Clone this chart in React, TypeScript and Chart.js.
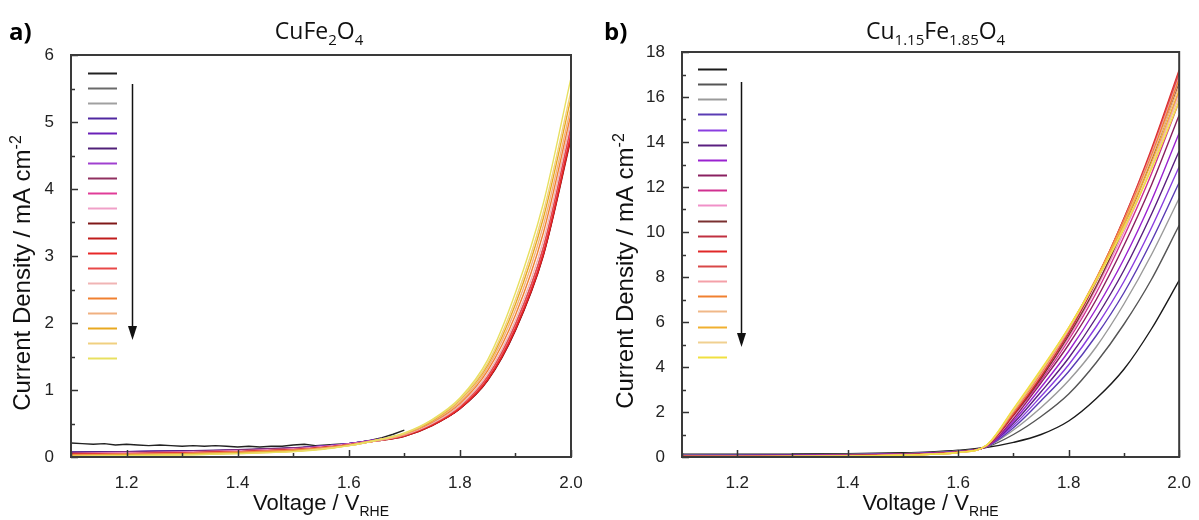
import React, { useEffect, useRef } from "react";
import { Chart, registerables } from "chart.js";

Chart.register(...registerables);

// ---------------- data ----------------
const VOLTAGE = [1.1, 1.2, 1.3, 1.4, 1.5, 1.55, 1.6, 1.65, 1.7, 1.75, 1.8, 1.85, 1.9, 1.95, 2.0];

// first (black) scan of CuFe2O4 – noisy, recorded only up to 1.70 V
const A_BLACK_VOLTAGE = [1.1, 1.12, 1.14, 1.16, 1.18, 1.2, 1.22, 1.24, 1.26, 1.28, 1.3, 1.32, 1.34, 1.36, 1.38, 1.4, 1.42, 1.44, 1.46, 1.48, 1.5, 1.52, 1.54, 1.56, 1.58, 1.6, 1.62, 1.64, 1.66, 1.68, 1.7];
const A_BLACK_CURRENT = [0.21, 0.2, 0.19, 0.2, 0.18, 0.19, 0.18, 0.17, 0.18, 0.17, 0.16, 0.17, 0.16, 0.17, 0.16, 0.15, 0.16, 0.15, 0.16, 0.16, 0.18, 0.19, 0.17, 0.18, 0.19, 0.2, 0.22, 0.25, 0.29, 0.34, 0.4];

const A_COLORS = [
  "#222222", "#6a6a6a", "#a0a0a0", "#5028a0", "#6a20b8", "#502078", "#a040d0", "#903060", "#e03c98", "#f0a0c8",
  "#801818", "#c01c1c", "#e82828", "#e84848", "#f0b4b4", "#f08030", "#f0b080", "#e8a820", "#f0d080", "#e8e060",
];

// CuFe2O4 scans 2..20, values at VOLTAGE
const A_CURRENTS = [
  [0.06, 0.07, 0.08, 0.1, 0.13, 0.16, 0.2, 0.26, 0.34, 0.5, 0.76, 1.2, 1.98, 3.1, 4.9],
  [0.06, 0.07, 0.08, 0.1, 0.13, 0.16, 0.2, 0.26, 0.34, 0.5, 0.76, 1.2, 1.98, 3.12, 4.92],
  [0.07, 0.08, 0.09, 0.1, 0.13, 0.16, 0.2, 0.26, 0.33, 0.48, 0.73, 1.16, 1.92, 3.05, 4.85],
  [0.07, 0.08, 0.09, 0.1, 0.13, 0.16, 0.2, 0.26, 0.33, 0.48, 0.72, 1.15, 1.9, 3.02, 4.8],
  [0.07, 0.08, 0.09, 0.11, 0.14, 0.16, 0.2, 0.26, 0.33, 0.48, 0.73, 1.16, 1.92, 3.04, 4.85],
  [0.06, 0.07, 0.08, 0.1, 0.13, 0.16, 0.2, 0.26, 0.33, 0.49, 0.74, 1.18, 1.95, 3.08, 4.9],
  [0.06, 0.07, 0.08, 0.1, 0.13, 0.15, 0.19, 0.25, 0.33, 0.48, 0.73, 1.17, 1.93, 3.05, 4.85],
  [0.05, 0.06, 0.07, 0.09, 0.12, 0.15, 0.19, 0.25, 0.32, 0.48, 0.73, 1.16, 1.92, 3.04, 4.8],
  [0.05, 0.06, 0.07, 0.09, 0.12, 0.15, 0.19, 0.25, 0.33, 0.49, 0.75, 1.19, 1.96, 3.1, 4.9],
  [0.05, 0.05, 0.06, 0.08, 0.11, 0.14, 0.18, 0.24, 0.31, 0.47, 0.72, 1.14, 1.89, 3.0, 4.75],
  [0.04, 0.05, 0.06, 0.08, 0.11, 0.14, 0.18, 0.24, 0.31, 0.47, 0.72, 1.15, 1.9, 3.01, 4.78],
  [0.04, 0.05, 0.06, 0.08, 0.11, 0.14, 0.18, 0.24, 0.32, 0.48, 0.73, 1.16, 1.92, 3.03, 4.8],
  [0.04, 0.05, 0.06, 0.08, 0.11, 0.14, 0.18, 0.24, 0.32, 0.49, 0.75, 1.2, 1.98, 3.12, 4.92],
  [0.03, 0.04, 0.05, 0.07, 0.1, 0.13, 0.18, 0.24, 0.33, 0.5, 0.77, 1.24, 2.04, 3.22, 5.02],
  [0.03, 0.04, 0.05, 0.07, 0.1, 0.13, 0.18, 0.25, 0.34, 0.52, 0.8, 1.29, 2.12, 3.34, 5.12],
  [0.02, 0.03, 0.04, 0.06, 0.09, 0.12, 0.17, 0.25, 0.34, 0.53, 0.82, 1.33, 2.2, 3.45, 5.22],
  [0.02, 0.03, 0.04, 0.06, 0.09, 0.12, 0.17, 0.25, 0.35, 0.54, 0.85, 1.37, 2.28, 3.56, 5.36],
  [0.01, 0.02, 0.03, 0.05, 0.08, 0.12, 0.17, 0.25, 0.35, 0.55, 0.86, 1.4, 2.35, 3.65, 5.46],
  [0.01, 0.02, 0.03, 0.05, 0.08, 0.11, 0.17, 0.25, 0.36, 0.56, 0.88, 1.45, 2.45, 3.78, 5.66],
];

const B_COLORS = [
  "#1a1a1a", "#555555", "#9a9a9a", "#5a3cb4", "#8a3ee0", "#5a1f80", "#9a22d0", "#8a2060", "#d03090", "#f090c8",
  "#7a3030", "#c03040", "#e02828", "#d84848", "#f4a0a8", "#f08030", "#f0b888", "#f0b030", "#f0d090", "#f0e040",
];

// Cu1.15Fe1.85O4 scans 1..20, values at VOLTAGE
const B_CURRENTS = [
  [0.12, 0.12, 0.13, 0.15, 0.19, 0.23, 0.3, 0.42, 0.65, 1.0, 1.6, 2.6, 3.9, 5.7, 7.85],
  [0.09, 0.09, 0.1, 0.12, 0.16, 0.2, 0.27, 0.43, 1.0, 1.8, 2.8, 4.2, 5.9, 7.9, 10.3],
  [0.08, 0.08, 0.09, 0.11, 0.15, 0.19, 0.26, 0.44, 1.2, 2.2, 3.4, 4.9, 6.8, 9.0, 11.5],
  [0.07, 0.08, 0.09, 0.1, 0.14, 0.18, 0.25, 0.44, 1.3, 2.5, 3.8, 5.4, 7.3, 9.6, 12.2],
  [0.07, 0.07, 0.08, 0.1, 0.14, 0.18, 0.25, 0.45, 1.4, 2.7, 4.1, 5.8, 7.8, 10.2, 12.9],
  [0.06, 0.07, 0.08, 0.09, 0.13, 0.17, 0.24, 0.45, 1.5, 2.9, 4.4, 6.2, 8.3, 10.8, 13.6],
  [0.06, 0.06, 0.07, 0.09, 0.13, 0.17, 0.24, 0.45, 1.6, 3.1, 4.7, 6.6, 8.8, 11.4, 14.4],
  [0.05, 0.06, 0.07, 0.08, 0.12, 0.16, 0.23, 0.46, 1.7, 3.3, 5.0, 7.0, 9.4, 12.1, 15.2],
  [0.05, 0.05, 0.06, 0.08, 0.12, 0.16, 0.23, 0.46, 1.8, 3.4, 5.2, 7.3, 9.8, 12.6, 15.8],
  [0.04, 0.05, 0.06, 0.07, 0.11, 0.15, 0.22, 0.47, 1.8, 3.5, 5.3, 7.5, 10.0, 12.9, 16.2],
  [0.04, 0.04, 0.05, 0.07, 0.11, 0.15, 0.22, 0.47, 1.85, 3.5, 5.4, 7.6, 10.2, 13.2, 16.6],
  [0.03, 0.04, 0.05, 0.06, 0.1, 0.14, 0.21, 0.48, 1.9, 3.6, 5.5, 7.8, 10.4, 13.5, 17.0],
  [0.03, 0.03, 0.04, 0.06, 0.1, 0.14, 0.21, 0.48, 1.9, 3.6, 5.6, 7.9, 10.6, 13.7, 17.2],
  [0.02, 0.03, 0.04, 0.05, 0.09, 0.13, 0.21, 0.49, 1.95, 3.65, 5.6, 7.9, 10.6, 13.6, 17.1],
  [0.02, 0.02, 0.03, 0.05, 0.09, 0.13, 0.2, 0.49, 2.0, 3.7, 5.65, 7.9, 10.5, 13.5, 16.9],
  [0.02, 0.02, 0.03, 0.04, 0.08, 0.12, 0.2, 0.5, 2.0, 3.75, 5.7, 7.95, 10.5, 13.4, 16.8],
  [0.01, 0.02, 0.03, 0.04, 0.08, 0.12, 0.2, 0.5, 2.05, 3.8, 5.7, 7.9, 10.4, 13.3, 16.5],
  [0.01, 0.01, 0.02, 0.04, 0.08, 0.12, 0.2, 0.5, 2.1, 3.85, 5.75, 7.9, 10.35, 13.1, 16.3],
  [0.0, 0.01, 0.02, 0.04, 0.08, 0.12, 0.2, 0.5, 2.1, 3.85, 5.7, 7.85, 10.2, 12.9, 16.0],
  [0.0, 0.01, 0.02, 0.04, 0.08, 0.12, 0.2, 0.5, 2.15, 3.9, 5.75, 7.85, 10.15, 12.8, 15.8],
];

const X_MIN = 1.1;
const X_MAX = 2.0;
const X_STEP = 0.1;
const A_Y_MAX = 6;
const A_Y_STEP = 0.5;
const B_Y_MAX = 18;
const B_Y_STEP = 1;

// ---------------- drawing helpers ----------------
type Part = { t: string; sub?: boolean; sup?: boolean };

const SANS = "'Liberation Sans', Arial, sans-serif";
const TITLE_FONT = "'Open Sans', 'Noto Sans', sans-serif";

function richWidth(ctx: CanvasRenderingContext2D, parts: Part[], size: number, family: string, weight: string) {
  let w = 0;
  for (const p of parts) {
    const s = p.sub || p.sup ? Math.round(size * 0.65) : size;
    ctx.font = `${weight} ${s}px ${family}`;
    w += ctx.measureText(p.t).width;
  }
  return w;
}

function drawRich(ctx: CanvasRenderingContext2D, parts: Part[], cx: number, baseline: number, size: number, family: string, weight = "normal", color = "#111") {
  const total = richWidth(ctx, parts, size, family, weight);
  let x = cx - total / 2;
  ctx.fillStyle = color;
  ctx.textAlign = "left";
  ctx.textBaseline = "alphabetic";
  for (const p of parts) {
    const s = p.sub || p.sup ? Math.round(size * 0.65) : size;
    ctx.font = `${weight} ${s}px ${family}`;
    const dy = p.sub ? size * 0.25 : p.sup ? -size * 0.38 : 0;
    ctx.fillText(p.t, x, baseline + dy);
    x += ctx.measureText(p.t).width;
  }
}

type PanelSpec = {
  canvasWidth: number;
  yWidth: number;
  padTop: number;
  padRight: number;
  yMax: number;
  yStep: number;
  yMajor: number;
  series: { x: number[]; y: number[]; color: string; noisy?: boolean }[];
  legendColors: string[];
  legendX0: number;
  legendX1: number;
  legendY0: number;
  legendDy: number;
  arrowX: number;
  arrowY0: number;
  arrowY1: number;
  letter: string;
  letterX: number;
  title: Part[];
  titleDx: number;
  yTitleX: number;
  yTitleY: number;
};

const Y_TITLE: Part[] = [{ t: "Current Density / mA cm" }, { t: "-2", sup: true }];
const X_TITLE: Part[] = [{ t: "Voltage / V" }, { t: "RHE", sub: true }];

function buildConfig(p: PanelSpec): any {
  const datasets = p.series.map((s, i) => ({
    data: s.x.map((x, j) => ({ x, y: s.y[j] })),
    borderColor: s.color,
    backgroundColor: s.color,
    borderWidth: 1.4,
    pointRadius: 0,
    fill: false,
    tension: 0,
    cubicInterpolationMode: s.noisy ? "default" : "monotone",
    order: p.series.length - i,
  }));

  const decor = {
    id: "decor",
    afterDraw(chart: any) {
      const ctx: CanvasRenderingContext2D = chart.ctx;
      const a = chart.chartArea;
      const xs = chart.scales.x;
      const ys = chart.scales.y;
      ctx.save();
      ctx.strokeStyle = "#333";
      ctx.lineWidth = 1.5;
      // inward ticks
      ctx.beginPath();
      xs.ticks.forEach((t: any) => {
        const px = Math.round(xs.getPixelForValue(t.value)) + 0.5;
        const k = Math.round(t.value * 10);
        const len = k % 2 === 0 ? 7 : 4;
        ctx.moveTo(px, a.bottom);
        ctx.lineTo(px, a.bottom - len);
      });
      ys.ticks.forEach((t: any) => {
        const py = Math.round(ys.getPixelForValue(t.value)) + 0.5;
        const r = t.value / p.yMajor;
        const major = Math.abs(r - Math.round(r)) < 1e-6;
        const len = major ? 7 : 4;
        ctx.moveTo(a.left, py);
        ctx.lineTo(a.left + len, py);
      });
      ctx.stroke();
      // frame
      ctx.lineWidth = 2;
      ctx.strokeStyle = "#3a3a3a";
      ctx.strokeRect(a.left, a.top, a.right - a.left, a.bottom - a.top);

      // legend lines
      ctx.lineWidth = 2;
      p.legendColors.forEach((c, i) => {
        const y = Math.round(p.legendY0 + i * p.legendDy) + 0.5;
        ctx.strokeStyle = c;
        ctx.beginPath();
        ctx.moveTo(a.left + p.legendX0, y);
        ctx.lineTo(a.left + p.legendX1, y);
        ctx.stroke();
      });

      // arrow
      const ax = a.left + p.arrowX + 0.5;
      ctx.strokeStyle = "#111";
      ctx.fillStyle = "#111";
      ctx.lineWidth = 1.5;
      ctx.beginPath();
      ctx.moveTo(ax, p.arrowY0);
      ctx.lineTo(ax, p.arrowY1 - 8);
      ctx.stroke();
      ctx.beginPath();
      ctx.moveTo(ax - 4.5, p.arrowY1 - 14);
      ctx.lineTo(ax + 4.5, p.arrowY1 - 14);
      ctx.lineTo(ax, p.arrowY1);
      ctx.closePath();
      ctx.fill();

      // panel letter + title
      ctx.font = `bold 24px ${TITLE_FONT}`;
      ctx.fillStyle = "#000";
      ctx.textAlign = "left";
      ctx.textBaseline = "alphabetic";
      ctx.fillText(p.letter, p.letterX, 40);
      drawRich(ctx, p.title, (a.left + a.right) / 2 + p.titleDx, 39, 23, TITLE_FONT, "normal", "#111");

      // axis titles
      drawRich(ctx, X_TITLE, (a.left + a.right) / 2, 510, 22, SANS, "normal", "#111");
      ctx.save();
      ctx.translate(p.yTitleX, p.yTitleY);
      ctx.rotate(-Math.PI / 2);
      drawRich(ctx, Y_TITLE, 0, 0, 24, SANS, "normal", "#111");
      ctx.restore();
      ctx.restore();
    },
  };

  return {
    type: "line",
    data: { datasets },
    plugins: [decor],
    options: {
      responsive: false,
      animation: false,
      devicePixelRatio: 1,
      events: [],
      layout: { padding: { top: p.padTop, right: p.padRight, left: 0, bottom: 0 } },
      plugins: { legend: { display: false }, tooltip: { enabled: false }, title: { display: false } },
      scales: {
        x: {
          type: "linear",
          min: X_MIN,
          max: X_MAX,
          grid: { display: false },
          border: { display: false },
          ticks: {
            stepSize: X_STEP,
            autoSkip: false,
            maxRotation: 0,
            padding: 8,
            color: "#222",
            font: { family: SANS, size: 17 },
            callback: (v: number) => {
              const k = Math.round(v * 10);
              return k % 2 === 0 && k > 11 ? (k / 10).toFixed(1) : "";
            },
          },
          afterFit: (s: any) => {
            s.height = 63;
          },
        },
        y: {
          type: "linear",
          min: 0,
          max: p.yMax,
          grid: { display: false },
          border: { display: false },
          ticks: {
            stepSize: p.yStep,
            autoSkip: false,
            padding: 9,
            color: "#222",
            font: { family: SANS, size: 17 },
            callback: (v: number) => {
              const r = v / p.yMajor;
              return Math.abs(r - Math.round(r)) < 1e-6 ? String(Math.round(v)) : "";
            },
          },
          afterFit: (s: any) => {
            s.width = p.yWidth;
          },
        },
      },
    },
  };
}

const PANEL_A: PanelSpec = {
  canvasWidth: 600,
  yWidth: 71,
  padTop: 55,
  padRight: 29,
  yMax: A_Y_MAX,
  yStep: A_Y_STEP,
  yMajor: 1,
  series: [
    { x: A_BLACK_VOLTAGE, y: A_BLACK_CURRENT, color: A_COLORS[0], noisy: true },
    ...A_CURRENTS.map((y, i) => ({ x: VOLTAGE, y, color: A_COLORS[i + 1] })),
  ],
  legendColors: A_COLORS,
  legendX0: 17,
  legendX1: 46,
  legendY0: 73,
  legendDy: 15,
  arrowX: 61,
  arrowY0: 84,
  arrowY1: 340,
  letter: "a)",
  letterX: 9,
  title: [{ t: "CuFe" }, { t: "2", sub: true }, { t: "O" }, { t: "4", sub: true }],
  titleDx: -2,
  yTitleX: 30,
  yTitleY: 273,
};

const PANEL_B: PanelSpec = {
  canvasWidth: 599,
  yWidth: 82,
  padTop: 52,
  padRight: 15,
  yMax: B_Y_MAX,
  yStep: B_Y_STEP,
  yMajor: 2,
  series: B_CURRENTS.map((y, i) => ({ x: VOLTAGE, y, color: B_COLORS[i] })),
  legendColors: B_COLORS,
  legendX0: 16,
  legendX1: 45,
  legendY0: 69,
  legendDy: 15.15,
  arrowX: 59,
  arrowY0: 82,
  arrowY1: 347,
  letter: "b)",
  letterX: 4,
  title: [{ t: "Cu" }, { t: "1.15", sub: true }, { t: "Fe" }, { t: "1.85", sub: true }, { t: "O" }, { t: "4", sub: true }],
  titleDx: 5,
  yTitleX: 33,
  yTitleY: 271,
};

function Panel({ spec, left }: { spec: PanelSpec; left: number }) {
  const ref = useRef<HTMLCanvasElement>(null);
  useEffect(() => {
    if (!ref.current) return;
    const chart = new Chart(ref.current, buildConfig(spec));
    return () => chart.destroy();
  }, [spec]);
  return (
    <canvas
      ref={ref}
      width={spec.canvasWidth}
      height={520}
      style={{ position: "absolute", left, top: 0, width: spec.canvasWidth, height: 520 }}
    />
  );
}

export default function App() {
  return (
    <div style={{ position: "absolute", left: 0, top: 0, width: 1199, height: 520, background: "#fff", overflow: "hidden" }}>
      <Panel spec={PANEL_A} left={0} />
      <Panel spec={PANEL_B} left={600} />
    </div>
  );
}
